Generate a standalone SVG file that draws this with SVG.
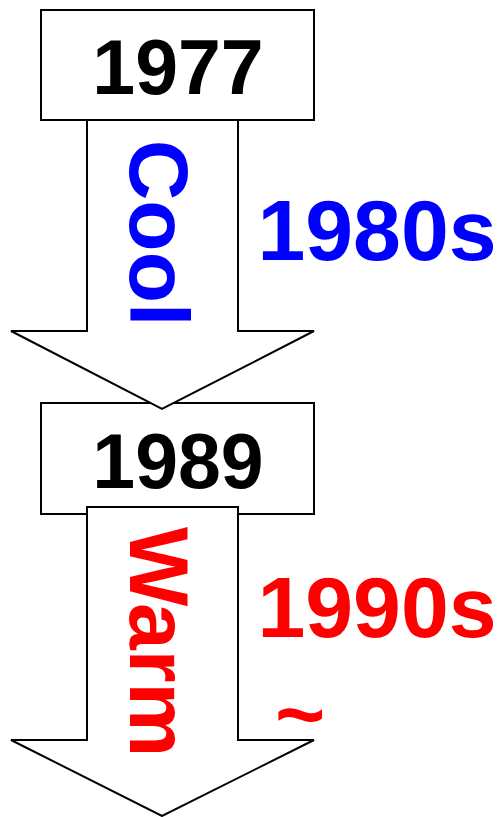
<svg xmlns="http://www.w3.org/2000/svg" width="497" height="817" viewBox="0 0 497 817">
<style>
.box{fill:#fff;stroke:#000;stroke-width:2}
.arrow{fill:#fff;stroke:#000;stroke-width:2;stroke-linejoin:miter}
.t{font-family:"Liberation Sans",Arial,sans-serif;font-weight:bold}
.year{font-size:77px;fill:#000;text-anchor:middle}
.dec{font-size:86px;text-anchor:middle}
.lab{font-size:84px;text-anchor:middle}
.blue{fill:#0000FF}
.red{fill:#FF0000}
</style>
<rect width="497" height="817" fill="#fff"/>
<g id="node-1977">
<rect class="box" x="41" y="10" width="273" height="110"/>
<text class="t year" x="178" y="94">1977</text>
</g>
<g id="node-1989">
<rect class="box" x="41" y="403" width="273" height="111"/>
<text class="t year" x="178" y="488">1989</text>
</g>
<g id="connectors">
<polygon id="arrow-cool" class="arrow" points="87,120 238,120 238,331 314,331 162,409 11,331 87,331"/>
<polygon id="arrow-warm" class="arrow" points="87,507 238,507 238,740 314,740 162,816 11,740 87,740"/>
<text class="t lab blue" transform="translate(130,233) rotate(90)">Cool</text>
<text class="t lab red" transform="translate(130,642) rotate(90)">Warm</text>
</g>
<g id="label-1980s">
<text class="t dec blue" x="377" y="260">1980s</text>
</g>
<g id="label-1990s">
<text class="t dec red" x="377" y="637">1990s</text>
<text class="t dec red" x="300" y="744">~</text>
</g>
</svg>
